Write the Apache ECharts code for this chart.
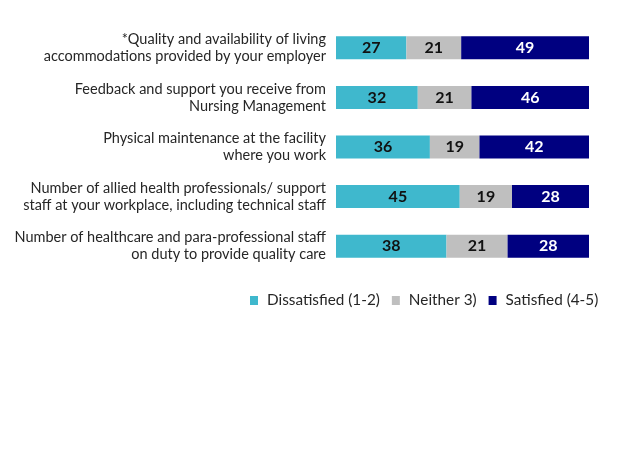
<!DOCTYPE html>
<html>
<head>
<meta charset="utf-8">
<script src="https://cdn.jsdelivr.net/npm/echarts@6/dist/echarts.min.js"></script>
<style>html,body{margin:0;padding:0;background:#fff;}#c{width:624px;height:468px;}</style>
</head>
<body>
<div id="c"></div>
<script>
const categories = [
  "*Quality and availability of living\naccommodations provided by your employer",
  "Feedback and support you receive from\nNursing Management",
  "Physical maintenance at the facility\nwhere you work",
  "Number of allied health professionals/ support\nstaff at your workplace, including technical staff",
  "Number of healthcare and para-professional staff\non duty to provide quality care"
];
const seriesNames = ["Dissatisfied (1-2)", "Neither 3)", "Satisfied (4-5)"];
const dissatisfied = [27, 32, 36, 45, 38];
const neither = [21, 21, 19, 19, 21];
const satisfied = [49, 46, 42, 28, 28];

const raw = [dissatisfied, neither, satisfied];
const totals = categories.map((_, i) => dissatisfied[i] + neither[i] + satisfied[i]);
const colors = ["#3FB8CD", "#BFBFBF", "#000080"];
const labelColors = ["#111", "#111", "#fff"];
const FONT = "Lato";

const chart = echarts.init(document.getElementById('c'), null, {renderer: 'canvas'});
chart.setOption({
  animation: false,
  textStyle: {fontFamily: FONT},
  grid: {left: 336, right: 35, top: 23, height: 248},
  xAxis: {type: 'value', min: 0, max: 100, show: false},
  yAxis: {
    type: 'category', data: categories, inverse: true,
    axisLine: {show: false}, axisTick: {show: false},
    axisLabel: {color: '#262626', fontSize: 14.5, lineHeight: 17, margin: 10, fontFamily: FONT, align: 'right', padding: [2, 0, 0, 0]}
  },
  legend: {
    left: 245, top: 288, itemWidth: 8, itemHeight: 9, itemGap: 12,
    icon: 'rect',
    textStyle: {fontSize: 15.3, color: '#262626', fontFamily: FONT, padding: [0, 0, 0, 4]},
    data: seriesNames
  },
  series: raw.map((arr, k) => ({
    name: seriesNames[k], type: 'bar', stack: 'all', barWidth: 23,
    itemStyle: {color: colors[k]},
    label: {
      show: true, position: 'inside', color: labelColors[k], fontWeight: 'bold', fontSize: 16, fontFamily: FONT,
      formatter: p => String(arr[p.dataIndex])
    },
    data: arr.map((v, i) => v / totals[i] * 100)
  }))
});
</script>
</body>
</html>
